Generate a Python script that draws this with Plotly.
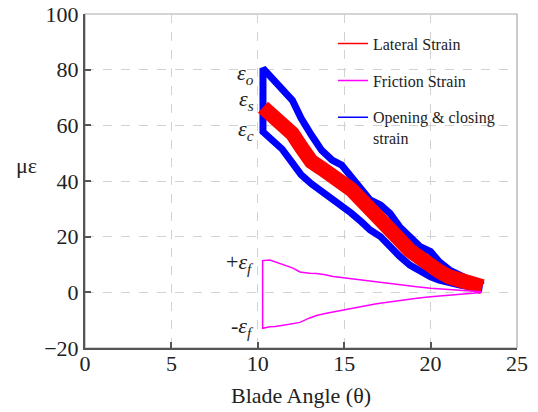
import plotly.graph_objects as go

# ---- data ----
blade_angle = [10.3, 10.8, 11.4, 12.0, 12.5, 13.1, 13.7, 14.3, 14.85, 15.4, 16.0, 16.5,
               17.1, 17.65, 18.2, 18.8, 19.4, 20.0, 20.5, 21.1, 21.7, 22.3, 22.9, 23.0]
opening_strain = [80.5, 76.9, 73.3, 69.0, 62.6, 56.5, 51.0, 47.5, 45.7, 41.5, 36.8, 33.2,
                  31.4, 28.4, 23.6, 20.0, 16.4, 14.6, 11.0, 8.0, 6.2, 4.4, 3.0, 2.5]
closing_strain = [57.7, 54.5, 51.5, 46.5, 42.3, 39.0, 36.4, 34.0, 31.5, 28.5, 25.3, 22.4,
                  20.0, 16.4, 13.0, 9.8, 7.4, 5.6, 4.4, 3.2, 2.6, 2.0, 1.4, 1.3]
lateral_strain = [66.5, 63.7, 61.3, 57.0, 52.3, 47.0, 44.5, 42.4, 40.0, 37.0, 33.2, 29.5,
                  26.0, 22.5, 19.0, 15.0, 12.0, 9.5, 7.5, 5.5, 4.2, 3.0, 2.2, 2.0]

friction_angle = [10.28, 10.7, 11.0, 11.48, 12.0, 12.44, 13.0, 13.4, 13.9, 14.36, 15.3,
                  16.1, 16.87, 17.6, 18.42, 19.2, 20.0, 21.0, 21.9, 22.95]
friction_pos = [11.4, 11.6, 11.0, 10.0, 8.8, 7.3, 6.9, 6.8, 6.3, 5.7, 4.8,
                4.2, 3.6, 3.1, 2.6, 2.0, 1.5, 1.0, 0.6, 0.2]
friction_neg = [-12.9, -12.4, -12.3, -11.8, -11.4, -10.8, -9.2, -8.3, -7.6, -7.0, -5.8,
                -5.0, -4.1, -3.4, -2.8, -2.1, -1.6, -1.0, -0.6, -0.1]

x_ticks = [0, 5, 10, 15, 20, 25]
y_ticks = [-20, 0, 20, 40, 60, 80, 100]

labels = {
    "<i>ε<sub>o</sub></i>": 78.4,
    "<i>ε<sub>s</sub></i>": 69.0,
    "<i>ε<sub>c</sub></i>": 58.3,
    "+<i>ε<sub>f</sub></i>": 10.5,
    "-<i>ε<sub>f</sub></i>": -12.5,
}

FONT = "Liberation Serif, Times New Roman, serif"
BLUE = "#0000ff"
RED = "#ff0000"
MAG = "#ff00ff"

fig = go.Figure()

# opening & closing strain (one closed path: upper branch back, then lower branch)
oc_x = blade_angle[::-1] + blade_angle
oc_y = opening_strain[::-1] + closing_strain
fig.add_trace(go.Scatter(
    x=oc_x, y=oc_y, mode="lines", line=dict(color=BLUE, width=7),
    showlegend=False,
))
# thin vertical joining segment
fig.add_trace(go.Scatter(
    x=[blade_angle[0], blade_angle[0]], y=[opening_strain[0], closing_strain[0]],
    mode="lines", line=dict(color=BLUE, width=1.2), showlegend=False, hoverinfo="skip",
))
fig.add_trace(go.Scatter(
    x=blade_angle, y=lateral_strain, mode="lines", line=dict(color=RED, width=15),
    showlegend=False,
))
fr_x = friction_angle[::-1] + friction_angle
fr_y = friction_pos[::-1] + friction_neg
fig.add_trace(go.Scatter(
    x=fr_x, y=fr_y, mode="lines", line=dict(color=MAG, width=1.5),
    showlegend=False,
))

# legend entries with thin line samples
legend_items = [("Lateral Strain", RED, "a"), ("Friction Strain", MAG, "b"),
                ("Opening & closing<br>strain", BLUE, "c")]
for i, (nm, col, grp) in enumerate(legend_items):
    fig.add_trace(go.Scatter(
        x=[None], y=[None], mode="lines", line=dict(color=col, width=1.5),
        name=nm, legendgroup=grp, legendrank=i + 1, showlegend=True,
    ))

annotations = []
for txt, yv in labels.items():
    annotations.append(dict(
        x=9.9, y=yv, xref="x", yref="y", text=txt, showarrow=False,
        xanchor="right", yanchor="middle", font=dict(family=FONT, size=22, color="#222"),
    ))
annotations.append(dict(
    x=-0.135, y=0.545, xref="paper", yref="paper", text="με", showarrow=False,
    xanchor="center", yanchor="middle", font=dict(family=FONT, size=22, color="#222"),
))
annotations.append(dict(
    x=0.5, y=-0.141, xref="paper", yref="paper", text="Blade Angle (θ)", showarrow=False,
    xanchor="center", yanchor="middle", font=dict(family=FONT, size=22, color="#222"),
))

axis_common = dict(
    showgrid=True, gridcolor="#d2d2d2", griddash="dash", gridwidth=1,
    showline=True, linecolor="#555555", linewidth=2,
    ticks="inside", ticklen=6, tickcolor="#555555", tickwidth=1.5,
    tickfont=dict(family=FONT, size=22, color="#222"),
    zeroline=False, automargin=False, ticklabeloverflow="allow",
)

fig.update_layout(
    width=538, height=412,
    margin=dict(l=85, r=21, t=14, b=64, autoexpand=False),
    paper_bgcolor="white", plot_bgcolor="white",
    showlegend=True,
    legend=dict(
        x=0.574, y=0.962, xanchor="left", yanchor="top",
        bgcolor="rgba(0,0,0,0)", borderwidth=0,
        font=dict(family=FONT, size=16, color="#222"),
        tracegroupgap=13, valign="top", traceorder="grouped",
    ),
    xaxis=dict(range=[0, 25], tickvals=x_ticks, ticklabelstandoff=-5, **axis_common),
    yaxis=dict(range=[-20, 100], tickvals=y_ticks, ticklabelstandoff=0, **axis_common),
    annotations=annotations,
    shapes=[dict(type="rect", xref="paper", yref="paper", x0=0, y0=0, x1=1, y1=1,
                 line=dict(color="#aaaaaa", width=1.2), layer="below")],
)

# remove the default 8px page margin so the figure fills the window exactly
fig.write_html("out.html", config={"displayModeBar": False},
               post_script="document.body.style.margin='0';")
